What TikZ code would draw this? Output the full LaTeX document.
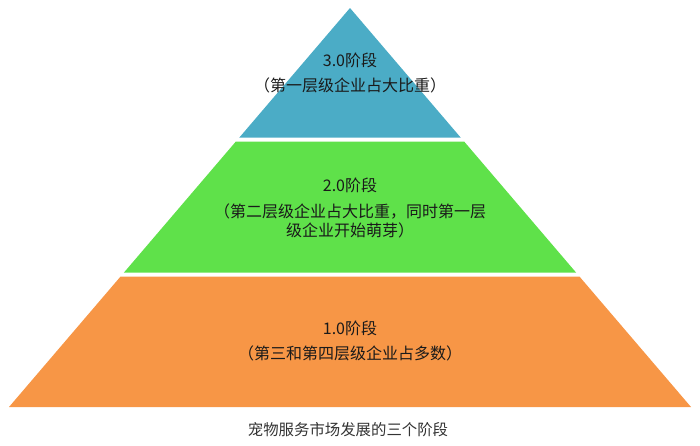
\documentclass[tikz,border=0pt]{standalone}
\usepackage{fontspec}
\setmainfont{Noto Sans CJK SC}
\definecolor{tierblue}{HTML}{4BACC6}
\definecolor{tiergreen}{HTML}{5FE14A}
\definecolor{tierorange}{HTML}{F79646}
\definecolor{txt}{HTML}{1A1A1A}
\definecolor{captxt}{HTML}{333333}
\tikzset{
  band/.style={draw=none},
  lbl/.style={text=txt, font=\fontsize{16}{19}\selectfont, align=center, inner sep=0pt},
  captionlbl/.style={text=captxt, font=\fontsize{15.4}{18}\selectfont, inner sep=0pt}
}
\begin{document}
\begin{tikzpicture}[x=1pt,y=-1pt]
\useasboundingbox (0,0) rectangle (700,445);
% top tier
\fill[band, tierblue] (350,8) -- (460.8,137.7) -- (239.2,137.7) -- cycle;
% middle tier
\fill[band, tiergreen] (235.7,141.7) -- (464.3,141.7) -- (576.2,272.7) -- (123.8,272.7) -- cycle;
% bottom tier
\fill[band, tierorange] (120.4,276.7) -- (579.6,276.7) -- (691,407) -- (9,407) -- cycle;
% labels
\node[lbl] (t3) at (350,60) {3.0阶段};
\node[lbl] (d3) at (350,85) {（第一层级企业占大比重）};
\node[lbl] (t2) at (350,185) {2.0阶段};
\node[lbl] (d2) at (350,221) {（第二层级企业占大比重，同时第一层\\级企业开始萌芽）};
\node[lbl] (t1) at (350,328) {1.0阶段};
\node[lbl] (d1) at (350,353) {（第三和第四层级企业占多数）};
\node[captionlbl] (c) at (348,430) {宠物服务市场发展的三个阶段};
\end{tikzpicture}
\end{document}
